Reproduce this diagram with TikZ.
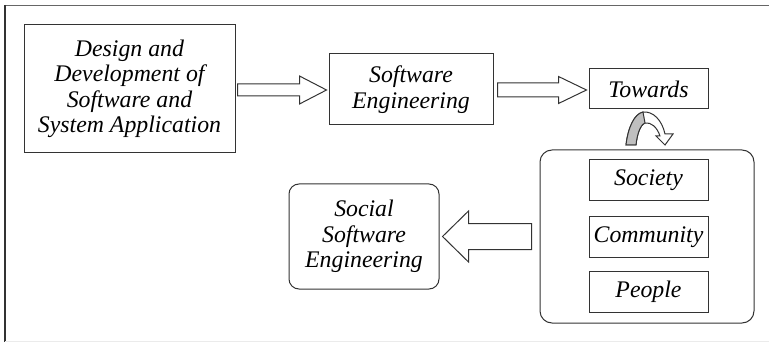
\documentclass[tikz,border=0pt]{standalone}
\usepackage{fontspec}
\setmainfont{Liberation Serif}
\usetikzlibrary{calc}
\tikzset{
  box/.style={draw=black!80, line width=1pt, inner sep=0pt, align=center,
    font=\fontsize{23.8}{25.5}\selectfont\itshape},
  rbox/.style={box, rounded corners=12pt},
  blockarr/.style={draw=black!80, line width=1pt, fill=white, line join=miter},
  frameline/.style={line width=1.4pt}
}
\newcommand\blockarrow[5]{%
  \coordinate (ba-s) at (#1);
  \coordinate (ba-t) at (#2);
  \coordinate (ba-h) at ($(ba-t)!#5!(ba-s)$);
  \draw[blockarr] ($(ba-s)!#3!90:(ba-t)$) -- ($(ba-h)!#3!90:(ba-t)$)
    -- ($(ba-h)!#4!90:(ba-t)$) -- (ba-t) -- ($(ba-h)!#4!-90:(ba-t)$)
    -- ($(ba-h)!#3!-90:(ba-t)$) -- ($(ba-s)!#3!-90:(ba-t)$) -- cycle;}
\begin{document}
\begin{tikzpicture}[x=1pt,y=-1pt]
\useasboundingbox (0,0) rectangle (769,342);
% frame
\draw[frameline, black!60] (4.5,5.5) -- (769,5.5);
\draw[frameline, black!80] (5,5) -- (5,342);
\draw[line width=1pt, black!8] (5,341) -- (769,341);
% nodes
\node[box, minimum width=211pt, minimum height=128pt] (d) at (129.5,89)
  {Design and\\Development of\\Software and\\System Application};
\node[box, minimum width=164pt, minimum height=71pt] (se) at (411,89.5)
  {Software\\Engineering};
\node[box, minimum width=119pt, minimum height=40pt] (tw) at (648.5,89) {Towards};
\node[rbox, minimum width=214pt, minimum height=173pt] (big) at (647,236.5) {};
\node[box, minimum width=119pt, minimum height=41pt] (soc) at (648.5,180.5) {Society};
\node[box, minimum width=119pt, minimum height=40pt] (com) at (648.5,237) {Community};
\node[box, minimum width=119pt, minimum height=41pt] (peo) at (648.5,291.5) {People};
\node[rbox, rounded corners=10pt, minimum width=150pt, minimum height=105pt] (sse) at (364,236.5)
  {Social\\Software\\Engineering};
% block arrows
\blockarrow{$(d.east)+(2,1)$}{$(se.west)+(-2,0.5)$}{6pt}{14pt}{27pt}
\blockarrow{$(se.east)+(4,0.5)$}{$(tw.west)+(-2,1)$}{7pt}{13.5pt}{28pt}
\blockarrow{$(big.west)+(-8,0)$}{$(sse.east)+(3,0)$}{13pt}{25.5pt}{26pt}
% U-turn arrow between Towards and the group
\draw[black!80, line width=1pt, fill=white, line join=miter]
  (626,145) .. controls (628,128) and (634,114) .. (643,112)
  .. controls (653,111) and (662,120) .. (665,134) -- (673,134) -- (665,145)
  -- (656,136) -- (660,136) .. controls (657,127) and (651,122) .. (645,123)
  .. controls (640,125) and (637,135) .. (636,145) -- cycle;
\draw[black!80, line width=1pt, fill=black!25, line join=miter]
  (626,145) .. controls (628,128) and (634,114) .. (643,112)
  -- (645,123) .. controls (640,125) and (637,135) .. (636,145) -- cycle;
\end{tikzpicture}
\end{document}
